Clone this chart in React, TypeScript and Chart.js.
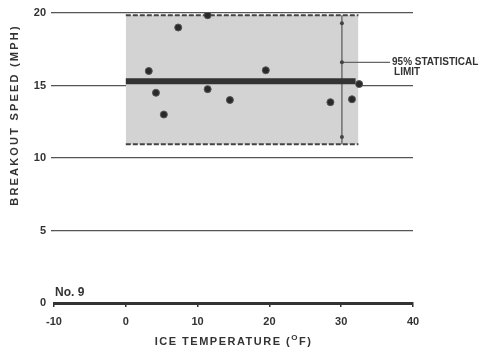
import React, { useEffect, useRef } from "react";
import { Chart, registerables } from "chart.js";

Chart.register(...registerables);

// Data
const tempValues = [3.2, 7.3, 11.4, 4.2, 5.3, 11.4, 14.5, 19.5, 28.5, 31.5, 32.5];
const speedValues = [16.0, 19.0, 19.85, 14.5, 13.0, 14.75, 14.0, 16.05, 13.85, 14.05, 15.1];
const xTicks = [-10, 0, 10, 20, 30, 40];
const yTicks = [0, 5, 10, 15, 20];
const bandX = [0, 32.4];
const upperLimit = 19.85;
const lowerLimit = 10.95;
const meanSpeed = 15.3;
const limitX = 30.1;
const limitMarks = [11.45, 16.6, 19.3];
const labelLineEndX = 36.8;
const limitLabel = ["95% STATISTICAL", "LIMIT"];
const panelLabel = "No. 9";
const xTitle = ["ICE TEMPERATURE (", "O", "F)"];
const yTitle = "BREAKOUT SPEED (MPH)";

const FONT = "'Liberation Sans', Arial, sans-serif";

export default function App() {
  const ref = useRef<HTMLCanvasElement | null>(null);
  useEffect(() => {
    if (!ref.current) return;
    const textPlugin = {
      id: "texts",
      afterDraw(chart: any) {
        const ctx = chart.ctx;
        const xs = chart.scales.x;
        const ys = chart.scales.y;
        ctx.save();
        ctx.fillStyle = "#333";
        // y title
        ctx.save();
        ctx.translate(15, 115);
        ctx.rotate(-Math.PI / 2);
        ctx.font = `bold 11px ${FONT}`;
        (ctx as any).letterSpacing = "2.2px";
        ctx.textAlign = "center";
        ctx.textBaseline = "middle";
        ctx.fillText(yTitle, 0, 0);
        ctx.restore();
        // x title with superscript
        ctx.save();
        ctx.font = `bold 11px ${FONT}`;
        (ctx as any).letterSpacing = "1.5px";
        ctx.textBaseline = "middle";
        const w1 = ctx.measureText(xTitle[0]).width;
        ctx.font = `bold 8px ${FONT}`;
        const w2 = ctx.measureText(xTitle[1]).width;
        ctx.font = `bold 11px ${FONT}`;
        const w3 = ctx.measureText(xTitle[2]).width;
        const total = w1 + w2 + w3;
        const x0 = (xs.left + xs.right) / 2 - total / 2;
        const yT = 342;
        ctx.textAlign = "left";
        ctx.fillText(xTitle[0], x0, yT);
        ctx.font = `bold 8px ${FONT}`;
        ctx.fillText(xTitle[1], x0 + w1, yT - 4);
        ctx.font = `bold 11px ${FONT}`;
        ctx.fillText(xTitle[2], x0 + w1 + w2, yT);
        ctx.restore();
        // limit label
        ctx.save();
        ctx.font = `bold 10px 'Liberation Sans Narrow', ${FONT}`;
        ctx.textAlign = "left";
        ctx.textBaseline = "middle";
        const lx = xs.getPixelForValue(labelLineEndX) + 2;
        const ly = ys.getPixelForValue(limitMarks[1]);
        ctx.fillText(limitLabel[0], lx, ly);
        ctx.fillText(limitLabel[1], lx + 2, ly + 10);
        ctx.restore();
        // panel label
        ctx.save();
        ctx.font = `bold 12px ${FONT}`;
        ctx.textAlign = "left";
        ctx.textBaseline = "middle";
        ctx.fillText(panelLabel, xs.getPixelForValue(-10) + 1, ys.getPixelForValue(0) - 10);
        ctx.restore();
        ctx.restore();
      },
    };

    const chart = new Chart(ref.current, {
      type: "scatter",
      data: {
        datasets: [
          {
            type: "line",
            data: bandX.map((x) => ({ x, y: upperLimit })),
            borderColor: "#444",
            borderWidth: 2,
            borderDash: [5, 2],
            pointRadius: 0,
            fill: "+1",
            backgroundColor: "#d3d3d3",
            order: 5,
          } as any,
          {
            type: "line",
            data: bandX.map((x) => ({ x, y: lowerLimit })),
            borderColor: "#444",
            borderWidth: 2,
            borderDash: [5, 2],
            pointRadius: 0,
            fill: false,
            order: 4,
          } as any,
          {
            type: "line",
            data: [
              { x: limitX, y: lowerLimit },
              { x: limitX, y: upperLimit },
            ],
            borderColor: "#555",
            borderWidth: 1.2,
            pointRadius: 0,
            fill: false,
            order: 3,
          } as any,
          {
            type: "line",
            data: [
              { x: limitX, y: limitMarks[1] },
              { x: labelLineEndX, y: limitMarks[1] },
            ],
            borderColor: "#666",
            borderWidth: 1.2,
            pointRadius: 0,
            fill: false,
            order: 3,
          } as any,
          {
            data: limitMarks.map((y) => ({ x: limitX, y })),
            backgroundColor: "#444",
            borderWidth: 0,
            pointRadius: 2,
            order: 2,
          },
          {
            type: "line",
            data: [
              { x: bandX[0], y: meanSpeed },
              { x: bandX[1] - 0.4, y: meanSpeed },
            ],
            borderColor: "#333",
            borderWidth: 6,
            pointRadius: 0,
            fill: false,
            order: 1,
          } as any,
          {
            data: tempValues.map((x, i) => ({ x, y: speedValues[i] })),
            backgroundColor: "#2a2a2a",
            borderColor: "#555",
            borderWidth: 1,
            pointRadius: 3.5,
            order: 0,
          },
        ],
      },
      options: {
        animation: false,
        responsive: false,
        layout: { padding: { top: 13, right: 70, left: 0, bottom: 0 } },
        plugins: { legend: { display: false }, tooltip: { enabled: false } },
        scales: {
          x: {
            type: "linear",
            min: -10,
            max: 40,
            afterFit: (s: any) => {
              s.height = 50;
            },
            afterBuildTicks: (s: any) => {
              s.ticks = xTicks.map((v) => ({ value: v }));
            },
            border: { display: true, color: "#333", width: 3 },
            grid: { display: true, drawOnChartArea: false, tickLength: 4, color: "#333", lineWidth: 1.5 },
            ticks: {
              color: "#333",
              font: { family: FONT, size: 11, weight: "bold" },
              padding: 8,
              maxRotation: 0,
            },
          },
          y: {
            type: "linear",
            min: 0,
            max: 20,
            afterFit: (s: any) => {
              s.width = 54;
            },
            afterBuildTicks: (s: any) => {
              s.ticks = yTicks.map((v) => ({ value: v }));
            },
            border: { display: false },
            grid: {
              color: (c: any) => (c.tick && c.tick.value === 0 ? "rgba(0,0,0,0)" : "#555"),
              lineWidth: 1.3,
              tickLength: 3,
              drawTicks: true,
            },
            ticks: {
              color: "#333",
              font: { family: FONT, size: 11, weight: "bold" },
              padding: 5,
            },
          },
        },
      },
      plugins: [textPlugin],
    } as any);
    return () => chart.destroy();
  }, []);
  return (
    <div style={{ position: "fixed", left: 0, top: 0, width: 483, height: 353, background: "#fff" }}>
      <canvas ref={ref} width={483} height={353} style={{ width: 483, height: 353 }} />
    </div>
  );
}
